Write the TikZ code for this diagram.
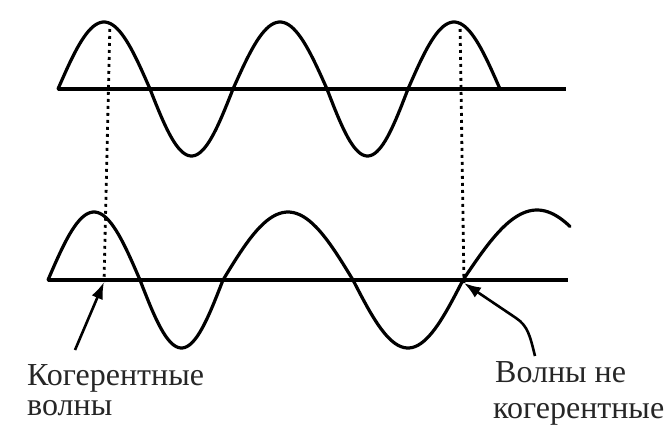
\documentclass[tikz,border=0pt]{standalone}
\usepackage{fontspec}
\setmainfont{Liberation Serif}
\usepackage{tikz}
\usetikzlibrary{arrows.meta}
\tikzset{
wave/.style={line width=3.2pt,line cap=round,line join=round},
axisline/.style={line width=4.4pt},
guide/.style={line width=2.8pt,dash pattern=on 2.8pt off 4.2pt},
arrow/.style={-{Latex[length=17pt,width=12pt]},line width=2.6pt},
caption/.style={anchor=base west,inner sep=0pt,font=\fontsize{32}{36}\selectfont,text=black!85}
}

\begin{document}
\begin{tikzpicture}[x=1pt,y=-1pt]
\useasboundingbox (0,0) rectangle (670,432);

% axes
\coordinate (topL) at (58,89);
\coordinate (topR) at (566,89);
\coordinate (botL) at (48,280);
\coordinate (botR) at (568,280);
\draw[axisline] (topL)--(topR);
\draw[axisline] (botL)--(botR);

% upper wave
\foreach \a/\b/\s in {58/150/1,150/233/-1,233/327/1,327/408/-1,408/500/1}
  \draw[wave] plot[domain=\a:\b,samples=40] (\x,{89-\s*67*sin(180/(\b-\a)*(\x-\a))});

% lower wave
\foreach \a/\b/\s in {48/140/1,140/223/-1,223/353/1,353/463/-1}
  \draw[wave] plot[domain=\a:\b,samples=40] (\x,{280-\s*68*sin(180/(\b-\a)*(\x-\a))});
\draw[wave] plot[domain=463:570,samples=40] (\x,{280-70*sin(180/148*(\x-463))});

% dotted guides
\coordinate (peakA) at (110,22);
\coordinate (peakB) at (460,22);
\coordinate (coh) at (104,282);
\coordinate (noncoh) at (464,283);
\draw[guide] (peakA)--(coh);
\draw[guide] (peakB)--(noncoh);

% labels
\node[caption] (kog1) at (27,385) {Когерентные};
\node[caption] (kog2) at (27,415) {волны};
\node[caption] (nekog1) at (495,382) {Волны не};
\node[caption] (nekog2) at (493,418) {когерентные};

\draw[arrow] (75,350)--(coh);
\draw[arrow] (535,356) .. controls (530,336) and (528,326) .. (516,318)--(noncoh);
\end{tikzpicture}
\end{document}
